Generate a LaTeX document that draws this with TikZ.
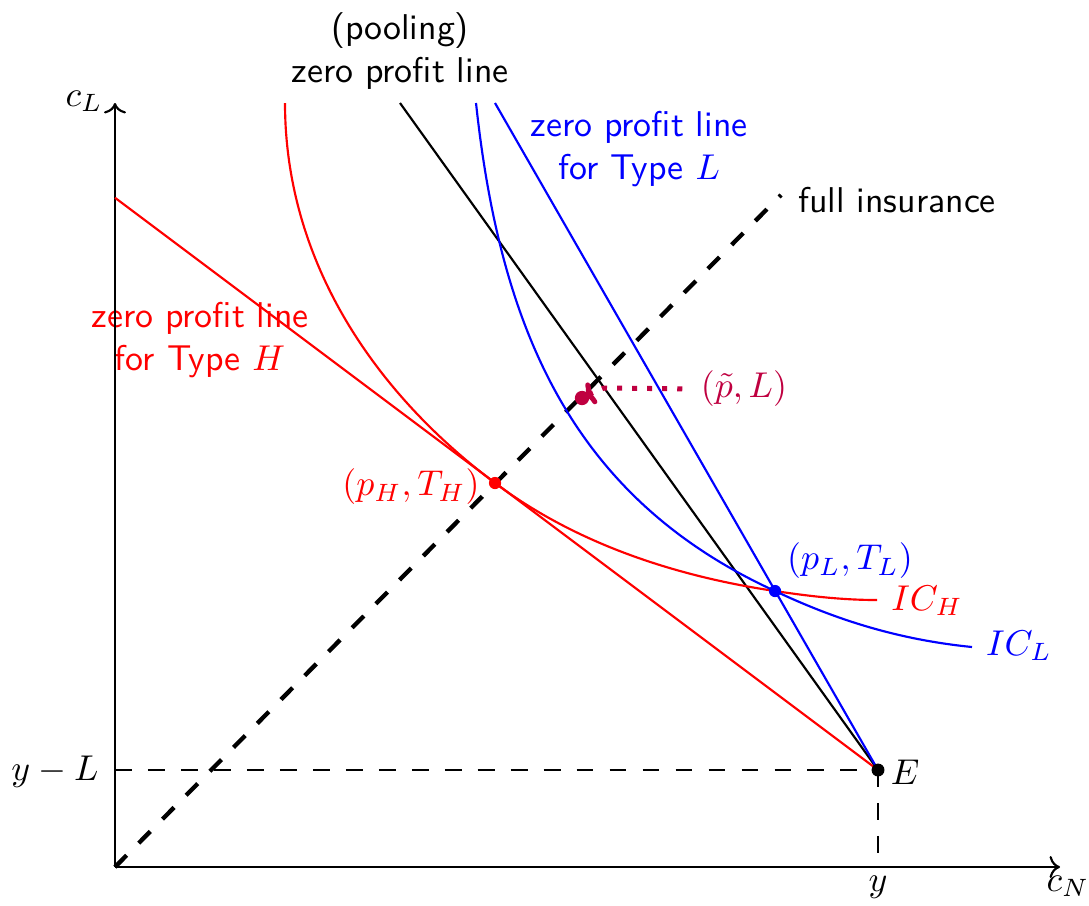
\documentclass[tikz,border=0pt]{standalone}
\usetikzlibrary{arrows.meta}
\begin{document}
\begin{tikzpicture}[x=0.279pt,y=-0.279pt,font=\sffamily,
  every node/.style={inner sep=0pt},
  thinline/.style={line width=0.6pt},
  axisline/.style={line width=0.6pt,->},
  guide/.style={line width=0.6pt,dash pattern=on 4.7pt off 4.5pt},
  diag/.style={line width=1.2pt,dash pattern=on 4.6pt off 4.8pt},
  ptline/.style={purple,line width=1.4pt,dash pattern=on 1.4pt off 2.8pt,-{To[length=2.6pt,width=6.5pt]}}]
\useasboundingbox (0,0) rectangle (1089,905);
% coordinates
\coordinate (O) at (115,867);
\coordinate (xend) at (1060,867);
\coordinate (yend) at (115,103);
\coordinate (E) at (878,770);
\coordinate (yLpt) at (115,770);
\coordinate (ypt) at (878,867);
\coordinate (fiend) at (781,195);
\coordinate (Htop) at (115,197.75);
\coordinate (pooltop) at (400,103);
\coordinate (Ltop) at (495,103);
\coordinate (pH) at (495,483);
\coordinate (pL) at (775,591);
\coordinate (pt) at (582,398);
\coordinate (ptarrow) at (585,396);
\coordinate (ptbend) at (604,388);
\coordinate (ICHtop) at (285,103);
\coordinate (ICHend) at (877,600);
\coordinate (ICLtop) at (476,103);
\coordinate (ICLend) at (972,647);
% labels
\node[red] (ICH) at (927,601) {$IC_H$};
\node[blue] (ICL) at (1019,646) {$IC_L$};
\node[red] (pHl) at (411,487) {$(p_H,T_H)$};
\node[blue] (pLl) at (850,561) {$(p_L,T_L)$};
\node[purple] (ptl) at (744,389) {$(\tilde p,L)$};
\node (fi) at (897,200) {full insurance};
\node[align=center] (pool) at (400,51) {(pooling)\\zero profit line};
\node[blue,align=center] (zL) at (639,149) {zero profit line\\for Type $L$};
\node[red,align=center] (zH) at (200,340) {zero profit line\\for Type $H$};
\node (cL) at (84,101) {$c_L$};
\node (cN) at (1068,886) {$c_N$};
\node (yL) at (55,772) {$y-L$};
\node (ylab) at (878,887) {$y$};
\node (Elab) at (905,772) {$E$};
% axes
\draw[axisline] (O) -- (xend);
\draw[axisline] (O) -- (yend);
% guides
\draw[guide] (yLpt) -- (E);
\draw[guide] (E) -- (ypt);
\draw[diag] (O) -- (fiend);
% zero profit lines
\draw[thinline,red] (Htop) -- (E);
\draw[thinline] (pooltop) -- (E);
\draw[thinline,blue] (Ltop) -- (E);
% indifference curves
\draw[thinline,red] (ICHtop) .. controls (285,258) and (371,390) .. (pH)
  .. controls (575,543) and (674,576) .. (pL)
  .. controls (808,596) and (842,600) .. (ICHend);
\draw[thinline,blue] (ICLtop) .. controls (500,326) and (570,497) .. (pL)
  .. controls (829,616.5) and (892,639) .. (ICLend);
% pooling marker
\draw[ptline,shorten <=5pt] (ptl.west) -- (ptbend) -- (ptarrow);
% points
\fill[red] (pH) circle[radius=1.7pt];
\fill[blue] (pL) circle[radius=1.7pt];
\fill[purple] (pt) circle[radius=2pt];
\fill (E) circle[radius=1.8pt];
\end{tikzpicture}
\end{document}
